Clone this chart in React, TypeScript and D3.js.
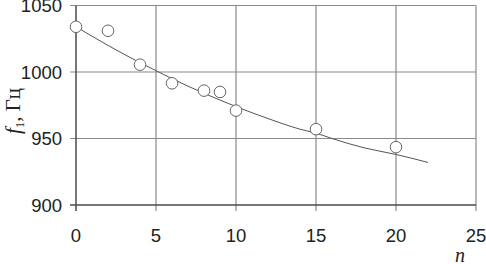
import React from 'react'
import * as d3 from 'd3'

// measured points
const nValues = [0, 2, 4, 6, 8, 9, 10, 15, 20]
const fValues = [1034, 1031, 1005.5, 991.5, 986, 985, 971, 957, 943.5]

// trend line
const trendN = [0, 2, 4, 5, 6, 8, 10, 12, 14, 15, 16, 18, 20, 22]
const trendF = [1034, 1020, 1007, 1001, 995, 984, 974, 965, 957, 954, 950, 943, 938, 932]

const xTicks = [0, 5, 10, 15, 20, 25]
const yTicks = [900, 950, 1000, 1050]

const width = 486
const height = 264
const margin = { top: 5.5, right: 10, bottom: 59, left: 76 }

export default function App() {
  const x = d3.scaleLinear().domain([0, 25]).range([margin.left, width - margin.right])
  const y = d3.scaleLinear().domain([900, 1050]).range([height - margin.bottom, margin.top])

  const line = d3.line<number>()
    .x((d, i) => x(trendN[i]))
    .y(d => y(d))
    .curve(d3.curveMonotoneX)

  const x0 = x(0)
  const y0 = y(900)
  const gridColor = '#8a8a8a'
  const axisColor = '#4a4a4a'
  const font = '"Liberation Sans", Arial, sans-serif'

  return (
    <svg width={width} height={height} viewBox={`0 0 ${width} ${height}`}
      style={{ position: 'absolute', left: 0, top: 0, background: '#fff' }}>
      {/* grid */}
      {xTicks.filter(t => t > 0).map(t => (
        <line key={'gx' + t} x1={x(t)} x2={x(t)} y1={y(1050)} y2={y0 + 6} stroke={gridColor} strokeWidth={1.2} />
      ))}
      {yTicks.filter(t => t > 900).map(t => (
        <line key={'gy' + t} x1={x0 - 6} x2={x(25)} y1={y(t)} y2={y(t)} stroke={gridColor} strokeWidth={1.2} />
      ))}
      {/* axes */}
      <line x1={x0} x2={x0} y1={y(1050)} y2={y0 + 6} stroke={axisColor} strokeWidth={1.5} />
      <line x1={x0 - 6} x2={x(25)} y1={y0} y2={y0} stroke={axisColor} strokeWidth={1.5} />

      {/* trend */}
      <path d={line(trendF) || ''} fill="none" stroke="#555" strokeWidth={1} />

      {/* points */}
      {nValues.map((n, i) => (
        <circle key={'p' + i} cx={x(n)} cy={y(fValues[i])} r={5.8} fill="#fff" stroke="#666" strokeWidth={1} />
      ))}

      {/* tick labels */}
      {yTicks.map(t => (
        <text key={'ty' + t} x={x0 - 14} y={y(t)} dy="0.36em" textAnchor="end"
          fontFamily={font} fontSize={18.5} fill="#222">{t}</text>
      ))}
      {xTicks.map(t => (
        <text key={'tx' + t} x={x(t)} y={241.5} textAnchor="middle"
          fontFamily={font} fontSize={18.5} fill="#222">{t}</text>
      ))}

      {/* axis titles */}
      <text transform="translate(20,111) rotate(-90)" textAnchor="middle"
        fontFamily='"Liberation Serif", "Times New Roman", serif' fontSize={21} fill="#222">
        <tspan fontStyle="italic">f</tspan>
        <tspan fontSize={13} dy={4}>1</tspan>
        <tspan dy={-4}>, Гц</tspan>
      </text>
      <text x={460} y={262} textAnchor="middle"
        fontFamily='"Liberation Serif", "Times New Roman", serif' fontStyle="italic" fontSize={20} fill="#222">n</text>
    </svg>
  )
}
